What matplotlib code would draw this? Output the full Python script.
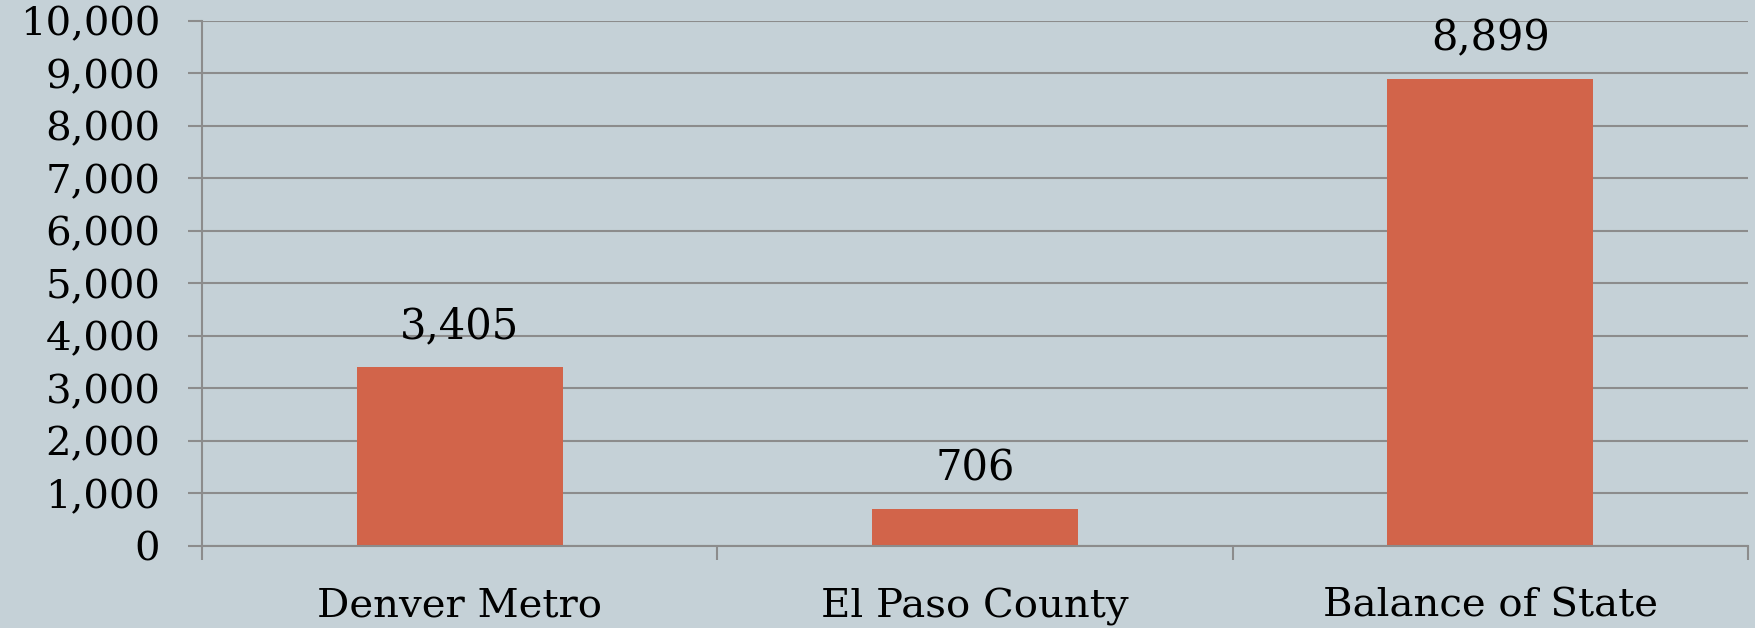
import matplotlib.pyplot as plt
from matplotlib.ticker import FuncFormatter, FixedLocator

categories = ['Denver Metro', 'El Paso County', 'Balance of State']
values = [3405, 706, 8899]
y_ticks = [0, 1000, 2000, 3000, 4000, 5000, 6000, 7000, 8000, 9000, 10000]

bg = '#c5d1d7'
bar_color = '#d2644a'
grid_color = '#8c8c8c'

plt.rcParams['font.family'] = ['DejaVu Serif']

fig = plt.figure(figsize=(17.56, 6.28), dpi=100, facecolor=bg)
ax = fig.add_axes([0.115, 0.1306, 0.8804, 0.836])
ax.set_facecolor(bg)

x = list(range(len(categories)))
bars = ax.bar(x, values, width=0.4, color=bar_color, zorder=3)

for xi, v in zip(x, values):
    ax.annotate(f'{v:,}', (xi, v), xytext=(0, 14), textcoords='offset points',
                ha='center', va='bottom', fontsize=30, color='black')

ax.set_xlim(-0.5, len(categories) - 0.5)
ax.set_ylim(0, 10000)
ax.set_yticks(y_ticks)
ax.yaxis.set_major_formatter(FuncFormatter(lambda v, p: f'{int(v):,}'))
ax.yaxis.grid(True, color=grid_color, linewidth=1.5, zorder=0)
ax.tick_params(axis='y', length=10, width=1.5, color=grid_color, pad=20, labelsize=29)

ax.set_xticks(x)
ax.set_xticklabels(categories)
ax.xaxis.set_minor_locator(FixedLocator([-0.5, 0.5, 1.5, 2.5]))
ax.tick_params(axis='x', which='major', length=0, pad=30, labelsize=29)
ax.tick_params(axis='x', which='minor', length=10, width=1.5, color=grid_color)

for s in ['top', 'right']:
    ax.spines[s].set_visible(False)
for s in ['left', 'bottom']:
    ax.spines[s].set_color(grid_color)
    ax.spines[s].set_linewidth(1.5)
ax.spines['bottom'].set_zorder(4)

fig.savefig('out.png', dpi=100, facecolor=bg)
